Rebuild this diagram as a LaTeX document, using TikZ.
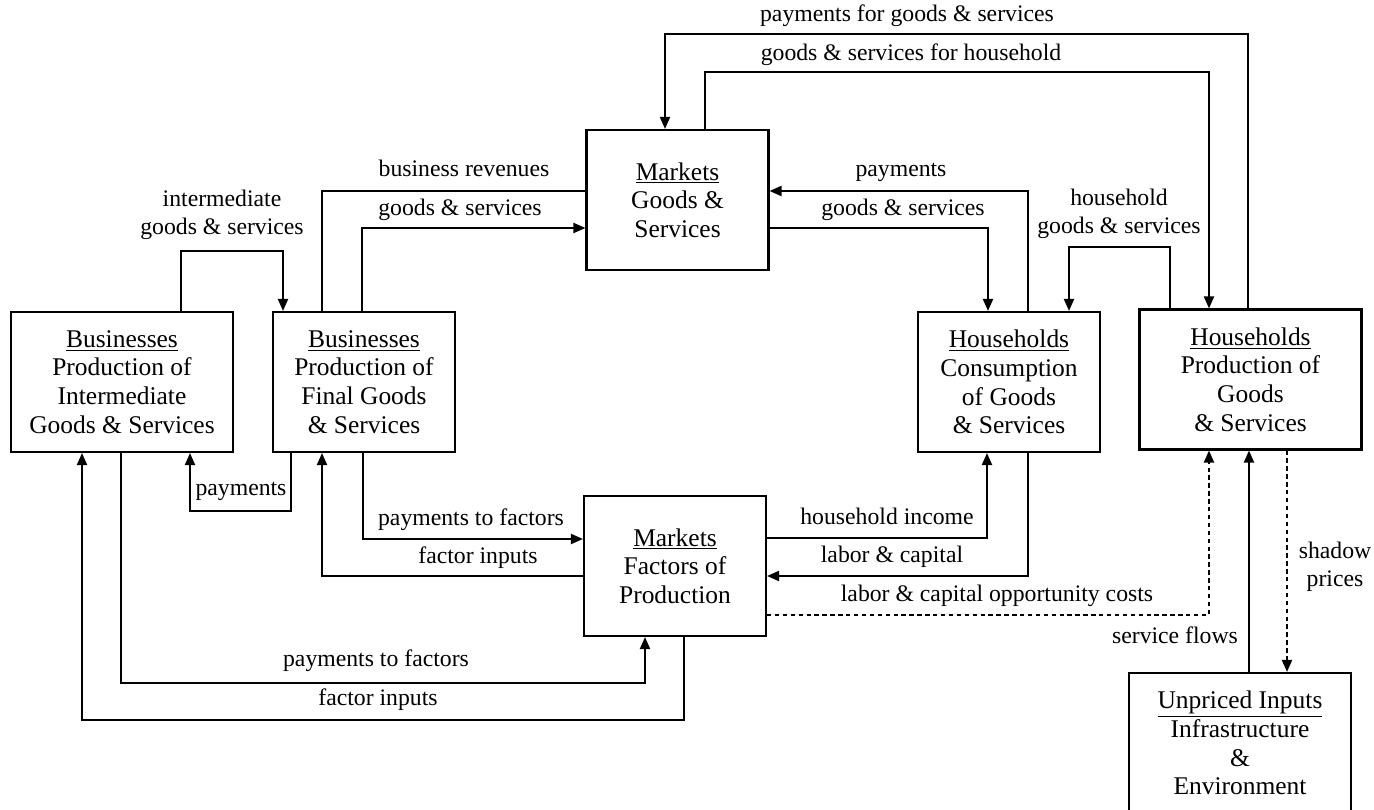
\documentclass[tikz,border=0pt]{standalone}
\usepackage{fontspec}
\setmainfont{Liberation Serif}
\usetikzlibrary{arrows.meta}

\begin{document}
\begin{tikzpicture}[
  x=0.02cm, y=-0.02cm,
  block/.style={draw,line width=1.2pt,minimum height=2.8cm,align=center,inner sep=0pt,
    font=\fontsize{14.5}{16.3}\selectfont},
  wide/.style={block,minimum width=4.44cm},
  narrow/.style={block,minimum width=3.64cm},
  signal/.style={-{Triangle[length=2.4mm,width=2mm]},line width=1.1pt},
  link/.style={line width=1.1pt},
  flowdash/.style={dash pattern=on 2.5pt off 2pt},
  note/.style={font=\fontsize{13.5}{15.8}\selectfont,inner sep=0pt,text height=.7em,text depth=.25em},
  twonote/.style={font=\fontsize{13.5}{15.8}\selectfont,inner sep=0pt,align=center}
]
  \useasboundingbox (0,0) rectangle (1374,810);

  \node[wide] (intermediate) at (122,382) {\underline{Businesses}\\Production of\\Intermediate\\Goods \& Services};
  \node[narrow] (final) at (364,382) {\underline{Businesses}\\Production of\\Final Goods\\\& Services};
  \node[narrow] (goodsmarket) at (677.5,200) {\underline{Markets}\\Goods \&\\Services};
  \node[narrow] (consumption) at (1009,382) {\underline{Households}\\Consumption\\of Goods\\\& Services};
  \node[wide] (homeprod) at (1250.5,379.5) {\underline{Households}\\Production of\\Goods\\\& Services};
  \node[narrow] (factormarket) at (675,566) {\underline{Markets}\\Factors of\\Production};
  \node[wide] (unpriced) at (1240,743) {\underline{Unpriced Inputs}\\Infrastructure\\\&\\Environment};

  % business side
  \draw[signal] ([shift={(59,0)}]intermediate.north) -- ++(0,-60) -| ([shift={(-81,0)}]final.north);
  \draw[signal] ([shift={(-73,0)}]final.south) -- ++(0,58) -| ([shift={(68,0)}]intermediate.south);
  \draw[link] ([shift={(0,-9)}]goodsmarket.west) -| ([shift={(-42,0)}]final.north);
  \draw[signal] ([shift={(-2,0)}]final.north) |- ([shift={(0,28)}]goodsmarket.west);
  \draw[signal] ([shift={(-1,0)}]final.south) |- ([shift={(0,-27)}]factormarket.west);
  \draw[signal] ([shift={(0,10)}]factormarket.west) -| ([shift={(-42,0)}]final.south);
  \draw[signal] ([shift={(-1,0)}]intermediate.south) -- ++(0,230) -| ([shift={(-30,0)}]factormarket.south);
  \draw[signal] ([shift={(9,0)}]factormarket.south) -- ++(0,83) -| ([shift={(-40,0)}]intermediate.south);

  % household side
  \draw[signal] ([shift={(-2.5,0)}]homeprod.north) -- ++(0,-274) -| ([shift={(-12.5,0)}]goodsmarket.north);
  \draw[signal] ([shift={(27.5,0)}]goodsmarket.north) -- ++(0,-57) -| ([shift={(-41.5,0)}]homeprod.north);
  \draw[signal] ([shift={(19,0)}]consumption.north) |- ([shift={(0,-9)}]goodsmarket.east);
  \draw[signal] ([shift={(0,28)}]goodsmarket.east) -| ([shift={(-21,0)}]consumption.north);
  \draw[signal] ([shift={(-80.5,0)}]homeprod.north) -- ++(0,-61) -| ([shift={(60,0)}]consumption.north);
  \draw[signal] ([shift={(0,-28)}]factormarket.east) -| ([shift={(-22,0)}]consumption.south);
  \draw[signal] ([shift={(19,0)}]consumption.south) |- ([shift={(0,10)}]factormarket.east);
  \draw[signal,flowdash] ([shift={(0,49)}]factormarket.east) -| ([shift={(-41.5,0)}]homeprod.south);
  \draw[signal] ([shift={(9,0)}]unpriced.north) -- ([shift={(9,0)}]unpriced.north |- homeprod.south);
  \draw[signal,flowdash] ([shift={(36.5,0)}]homeprod.south) -- ([shift={(36.5,0)}]homeprod.south |- unpriced.north);

  % flow labels
  \node[twonote] (intermediatelab) at (222,215) {intermediate\\goods \& services};
  \node[note] (paymentslab) at (241,492) {payments};
  \node[note] (revenueslab) at (464,173) {business revenues};
  \node[note] (goodslab) at (460,212) {goods \& services};
  \node[note] (paygoodslab) at (907,18) {payments for goods \& services};
  \node[note] (hhgoodslab) at (911,57) {goods \& services for household};
  \node[note] (hhpaymentslab) at (901,173) {payments};
  \node[note] (hhconsumelab) at (903,212) {goods \& services};
  \node[twonote] (homegoodslab) at (1119,214) {household\\goods \& services};
  \node[note] (factorpaylab) at (471,522) {payments to factors};
  \node[note] (factorinlab) at (478,560) {factor inputs};
  \node[note] (incomelab) at (887,521) {household income};
  \node[note] (laborlab) at (892,559) {labor \& capital};
  \node[note] (costslab) at (997,598) {labor \& capital opportunity costs};
  \node[note] (serviceslab) at (1175,640) {service flows};
  \node[twonote] (shadowlab) at (1335,567) {shadow\\prices};
  \node[note] (factorpay2lab) at (376,663) {payments to factors};
  \node[note] (factorin2lab) at (378,702) {factor inputs};
\end{tikzpicture}
\end{document}
